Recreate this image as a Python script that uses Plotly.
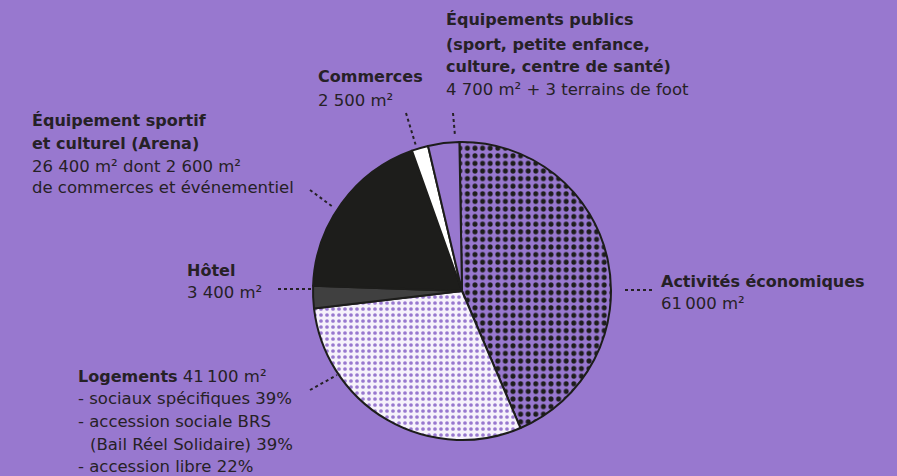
import plotly.graph_objects as go

categories = ["Activités économiques", "Logements", "Hôtel",
              "Équipement sportif et culturel (Arena)", "Commerces", "Équipements publics"]
values = [61000, 41100, 3400, 26400, 2500, 4700]
colors = ["#9878CF", "#F6F2FB", "#404040", "#1D1D1B", "#FFFFFF", "#9878CF"]
pattern_shapes = [".", ".", "", "", "", ""]
pattern_fg = ["#1D1D1B", "#9878CF", "#1D1D1B", "#1D1D1B", "#1D1D1B", "#1D1D1B"]

BG = "#9878CF"
INK = "#262126"
FONT = "DejaVu Sans"
W, H = 897, 476

fig = go.Figure(go.Pie(
    labels=categories, values=values, sort=False, direction="clockwise",
    rotation=-1, textinfo="none", hoverinfo="label+value",
    marker=dict(colors=colors, line=dict(color="#1D1D1B", width=2),
                pattern=dict(shape=pattern_shapes, fgcolor=pattern_fg, bgcolor=colors,
                             size=[7.6, 6, 8, 8, 8, 8], solidity=[0.34, 0.3, 0.3, 0.3, 0.3, 0.3],
                             fillmode="replace")),
    domain=dict(x=[(462 - 149) / W, (462 + 149) / W], y=[(H - 291 - 149) / H, (H - 291 + 149) / H]),
    showlegend=False,
))

# label lines: (x_px, y_px center, text, bold)
lines = [
    (446, 20, "Équipements publics", True),
    (446, 44, "(sport, petite enfance,", True),
    (446, 67, "culture, centre de santé)", True),
    (446, 89, "4 700 m² + 3 terrains de foot", False),
    (318, 77, "Commerces", True),
    (318, 100, "2 500 m²", False),
    (32, 120, "Équipement sportif", True),
    (32, 143, "et culturel (Arena)", True),
    (32, 166, "26 400 m² dont 2 600 m²", False),
    (32, 188, "de commerces et événementiel", False),
    (187, 270, "Hôtel", True),
    (187, 292, "3 400 m²", False),
    (661, 281, "Activités économiques", True),
    (661, 303, "61\u202f000 m²", False),
    (78, 376, "<b style='font-size:16px'>Logements</b> 41\u202f100 m²", False),
    (78, 398, "- sociaux spécifiques 39%", False),
    (78, 421, "- accession sociale BRS", False),
    (90, 444, "(Bail Réel Solidaire) 39%", False),
    (78, 466, "- accession libre 22%", False),
]
annotations = [dict(x=(x - 2) / W, y=1 - y / H, xref="paper", yref="paper",
                    text=("<b>%s</b>" % t) if b else t,
                    showarrow=False, xanchor="left", yanchor="middle", align="left",
                    font=dict(family=FONT, size=16 if b else 16.5, color=INK))
               for x, y, t, b in lines]

leaders = [
    (453, 113, 455, 136),
    (406, 113, 416, 146),
    (310, 190, 333, 207),
    (278, 289, 311, 289),
    (310, 390, 337, 375),
    (625, 290, 652, 290),
]
shapes = [dict(type="line", xref="paper", yref="paper",
               x0=a / W, y0=1 - b / H, x1=c / W, y1=1 - d / H,
               line=dict(color=INK, width=2, dash="dot"))
          for a, b, c, d in leaders]

fig.update_layout(width=W, height=H, margin=dict(l=0, r=0, t=0, b=0),
                  paper_bgcolor=BG, plot_bgcolor=BG,
                  annotations=annotations, shapes=shapes,
                  font=dict(family=FONT, color=INK))
fig.write_html("out.html", config={"displayModeBar": False},
               post_script="document.body.style.margin='0';document.body.style.background='%s';" % BG)
